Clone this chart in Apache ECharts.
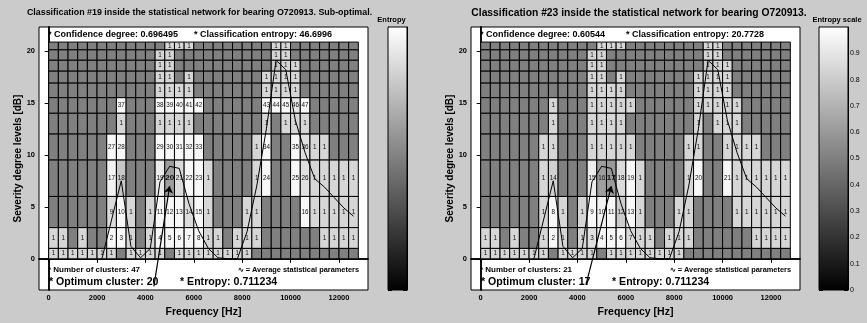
<!DOCTYPE html>
<html>
<head>
<meta charset="utf-8">
<script src="https://cdn.jsdelivr.net/npm/echarts@6/dist/echarts.min.js"></script>
<style>
  html, body { margin: 0; padding: 0; background: #cbcbcb; }
  #chart { width: 867px; height: 323px; }
</style>
</head>
<body>
<div id="chart"></div>
<script>
// severity level edges [dB], from bottom to top
const rowEdges = [0, 1, 3, 6, 9.5, 12, 14, 15.5, 16.9, 18.05, 19.1, 20.1, 20.85];
const binWidth = 400; // Hz per frequency bin (32 bins)
const freqTicks = [0, 2000, 4000, 6000, 8000, 10000, 12000];
const dbTicks = [0, 5, 10, 15, 20];
const entropyTicks = [0, 0.1, 0.2, 0.3, 0.4, 0.5, 0.6, 0.7, 0.8, 0.9];

// cluster labels per row, top row first ('.' = empty cell)
const labels19 = [
  '. . . . . . . . . . . . 1 1 1 . . . . . . . . 1 1 . . . . . . .',
  '. . . . . . . . . . . 1 1 . . . . . . . . . . 1 1 . . . . . . .',
  '. . . . . . . . . . . 1 1 . . . . . . . . . . 1 1 1 . . . . . .',
  '. . . . . . . . . . . 1 1 . 1 . . . . . . . 1 1 1 1 . . . . . .',
  '. . . . . . . . . . . 1 1 1 1 . . . . . . . 1 1 1 1 . . . . . .',
  '. . . . . . . 37 . . . 38 39 40 41 42 . . . . . . 43 44 45 46 47 . . . . .',
  '. . . . . . . 1 . . . 1 1 1 1 . . . . . . . 1 . 1 1 1 . . . . .',
  '. . . . . . 27 28 . . . 29 30 31 32 33 . . . . . 1 34 . . 35 36 1 1 . . .',
  '. . . . . . 17 18 . . . 19 20 21 22 23 1 . . . . 1 24 . . 25 26 1 1 1 1 1',
  '. . . . . . 9 10 1 . 1 11 12 13 14 15 1 . . . 1 1 . . . . 16 1 1 1 1 1',
  '1 1 . 1 . . 2 3 1 . 1 4 5 6 7 8 1 1 . 1 1 1 . . . . . . 1 1 1 1',
  '1 1 1 1 1 1 1 . 1 1 1 1 . 1 1 1 1 1 1 1 1 . . . . . . . . . . .'
];
const labels23 = [
  '. . . . . . . . . . . . 1 1 1 . . . . . . . . 1 1 . . . . . . .',
  '. . . . . . . . . . . 1 1 . . . . . . . . . . 1 1 . . . . . . .',
  '. . . . . . . . . . . 1 1 . . . . . . . . . . 1 1 1 . . . . . .',
  '. . . . . . . . . . . 1 1 . 1 . . . . . . . 1 1 1 1 . . . . . .',
  '. . . . . . . . . . . 1 1 1 1 . . . . . . . 1 1 1 1 . . . . . .',
  '. . . . . . . 1 . . . 1 1 1 1 1 . . . . . . 1 1 1 1 1 . . . . .',
  '. . . . . . . 1 . . . 1 1 1 1 . . . . . . . 1 . 1 1 1 . . . . .',
  '. . . . . . 1 1 . . . 1 1 1 1 1 . . . . . 1 1 . . 1 1 1 1 . . .',
  '. . . . . . 1 14 . . . 15 16 17 18 19 1 . . . . 1 20 . . 21 1 1 1 1 1 1',
  '. . . . . . 1 8 1 . 1 9 10 11 12 13 1 . . . 1 1 . . . . 1 1 1 1 1 1',
  '1 1 . 1 . . 1 2 1 . 1 3 4 5 6 7 1 1 . 1 1 1 . . . . . . 1 1 1 1',
  '1 1 1 1 1 1 1 . 1 1 1 1 . 1 1 1 1 1 1 1 1 . . . . . . . . . . .'
];

// entropy of cells that differ from the default shade: [row from bottom, bin, entropy]
const shade19 = [[3, 6, 0.95], [3, 7, 0.78], [3, 11, 0.92], [3, 12, 0.62], [3, 13, 0.86], [3, 26, 0.88],
  [2, 6, 0.86], [2, 14, 0.86], [4, 26, 0.88], [6, 25, 0.9], [9, 23, 0.78]];
const shade23 = [[3, 7, 0.82], [3, 11, 0.93], [3, 12, 0.62], [3, 13, 0.6], [3, 14, 0.86],
  [2, 12, 0.95], [2, 14, 0.8], [1, 11, 0.88], [1, 15, 0.85], [9, 23, 0.78]];
const emptyEntropy = 0.5, singleEntropy = 0.84, clusterEntropy = 0.97;

// average statistical parameters curve
const avgFreq = [2200, 3000, 3400, 3800, 4200, 4600, 5000, 5400, 5800, 6200, 6600, 7000, 7400, 7800,
  8200, 8600, 9000, 9400, 9800, 10200, 10600, 11000, 11400, 11800, 12200, 12600];
const avgDb = [0, 7.5, 1.2, 0.1, 1.0, 7.4, 8.9, 8.7, 5.3, 2.7, 1.0, 0.1, 0, 0,
  2.6, 7.0, 12.5, 19.1, 18.2, 13.3, 10.2, 7.7, 6.9, 5.9, 4.9, 4.1];

// optimum cluster pointers [Hz, dB]
const arrow19 = [[4350, -2.65], [5000, 7.0]];
const arrow23 = [[4350, -2.5], [5400, 7.0]];

const panels = [
  { title: 'Classification #19 inside the statistical network for bearing O720913. Sub-optimal.',
    titleSize: 8.9, titleX: 199.5,
    conf: '0.696495', classEnt: '46.6996', clusters: '47', optimum: '20', entropy: '0.711234',
    labels: labels19, shades: shade19, arrow: arrow19, cbTitle: 'Entropy', cbTitleX: 391.5 },
  { title: 'Classification #23 inside the statistical network for bearing O720913.',
    titleSize: 10.3, titleX: 639,
    conf: '0.60544', classEnt: '20.7728', clusters: '21', optimum: '17', entropy: '0.711234',
    labels: labels23, shades: shade23, arrow: arrow23, cbTitle: 'Entropy scale', cbTitleX: 837 }
];

const FONT = 'Liberation Sans, Arial, sans-serif';

function buildCells(labelRows, shades) {
  const out = [];
  labelRows.forEach((line, i) => {
    const r = labelRows.length - 1 - i;
    line.split(' ').forEach((t, c) => {
      const lab = t === '.' ? '' : t;
      const v = lab === '' ? emptyEntropy : (lab === '1' ? singleEntropy : clusterEntropy);
      out.push([c, r, v, lab]);
    });
  });
  shades.forEach(([r, c, v]) => {
    const cell = out.find(d => d[0] === c && d[1] === r);
    if (cell) cell[2] = v;
  });
  return out;
}

function cellRenderer(cells, optimum) {
  return function (params, api) {
    const c = api.value(0), r = api.value(1);
    const p0 = api.coord([c * binWidth, rowEdges[r + 1]]);
    const p1 = api.coord([(c + 1) * binWidth, rowEdges[r]]);
    const lab = cells[params.dataIndex][3];
    const best = lab === optimum;
    const children = [{
      type: 'rect',
      shape: { x: p0[0], y: p0[1], width: p1[0] - p0[0], height: p1[1] - p0[1] },
      style: { fill: api.visual('color'), stroke: '#000', lineWidth: 1 }
    }];
    if (lab) {
      children.push({
        type: 'text',
        style: {
          text: lab, x: (p0[0] + p1[0]) / 2, y: (p0[1] + p1[1]) / 2,
          align: 'center', verticalAlign: 'middle',
          font: (best ? 'bold 8px ' : '6.3px ') + FONT, fill: '#111'
        }
      });
    }
    return { type: 'group', children: children };
  };
}

function colorbarRender(params, api) {
  const p0 = api.coord([0, 1]);
  const p1 = api.coord([1, 0]);
  return {
    type: 'rect',
    shape: { x: p0[0], y: p0[1], width: p1[0] - p0[0], height: p1[1] - p0[1] },
    style: {
      fill: new echarts.graphic.LinearGradient(0, 0, 0, 1, [
        { offset: 0, color: '#ffffff' }, { offset: 1, color: '#000000' }
      ]),
      stroke: '#000', lineWidth: 1
    }
  };
}

const mainGrids = [{ left: 39, top: 27, width: 329, height: 263 }, { left: 471, top: 27, width: 329, height: 263 }];
const cbGrids = [{ left: 388, top: 27, width: 19, height: 263 }, { left: 819, top: 27, width: 29, height: 263 }];

const grid = [];
const xAxis = [];
const yAxis = [];
const series = [];
const graphic = [];
const cellSets = [];

const tickStyle = { show: true, inside: true, length: 4, lineStyle: { color: '#000', width: 1 } };
const lineStyle = { show: true, lineStyle: { color: '#000', width: 1.5 } };
const plain = v => String(v);

panels.forEach((p, k) => {
  const g = mainGrids[k];
  grid.push(Object.assign({ show: true, backgroundColor: '#fff', borderColor: '#000', borderWidth: 1 }, g));
  const gi = grid.length - 1;
  // bottom / top frequency axes
  xAxis.push({
    gridIndex: gi, type: 'value', min: -400, max: 13200, position: 'bottom',
    axisLine: lineStyle, splitLine: { show: false },
    axisTick: Object.assign({ customValues: freqTicks }, tickStyle),
    axisLabel: { customValues: freqTicks, formatter: plain, fontFamily: FONT, fontWeight: 'bold', fontSize: 7.5, color: '#000', margin: 4 },
    name: 'Frequency [Hz]', nameLocation: 'middle', nameGap: 11,
    nameTextStyle: { fontFamily: FONT, fontWeight: 'bold', fontSize: 10.5, color: '#000' }
  });
  const xi = xAxis.length - 1;
  xAxis.push({
    gridIndex: gi, type: 'value', min: -400, max: 13200, position: 'top',
    axisLine: lineStyle, splitLine: { show: false },
    axisTick: Object.assign({ customValues: freqTicks }, tickStyle), axisLabel: { show: false }
  });
  yAxis.push({
    gridIndex: gi, type: 'value', min: -3, max: 22.3, position: 'left',
    axisLine: lineStyle, splitLine: { show: false },
    axisTick: Object.assign({ customValues: dbTicks }, tickStyle),
    axisLabel: { customValues: dbTicks, formatter: plain, fontFamily: FONT, fontWeight: 'bold', fontSize: 7.5, color: '#000', margin: 4 },
    name: 'Severity degree levels [dB]', nameLocation: 'middle', nameGap: 12,
    nameTextStyle: { fontFamily: FONT, fontWeight: 'bold', fontSize: 10, color: '#000' }
  });
  const yi = yAxis.length - 1;
  yAxis.push({
    gridIndex: gi, type: 'value', min: -3, max: 22.3, position: 'right',
    axisLine: lineStyle, splitLine: { show: false },
    axisTick: Object.assign({ customValues: dbTicks }, tickStyle), axisLabel: { show: false }
  });

  const cells = buildCells(p.labels, p.shades);
  cellSets.push(series.length);
  series.push({
    type: 'custom', xAxisIndex: xi, yAxisIndex: yi, data: cells, z: 2,
    renderItem: cellRenderer(cells, p.optimum), silent: true
  });
  series.push({
    type: 'line', xAxisIndex: xi, yAxisIndex: yi, z: 5, symbol: 'none', silent: true,
    data: avgFreq.map((f, i) => [f, avgDb[i]]),
    lineStyle: { color: '#000', width: 1 }
  });
  series.push({
    type: 'lines', coordinateSystem: 'cartesian2d', xAxisIndex: xi, yAxisIndex: yi, z: 6, silent: true,
    symbol: ['none', 'arrow'], symbolSize: 7,
    lineStyle: { color: '#000', width: 1.2, opacity: 1 },
    data: [{ coords: p.arrow }]
  });

  // colorbar
  const cg = cbGrids[k];
  grid.push(Object.assign({ show: false }, cg));
  const cgi = grid.length - 1;
  xAxis.push({ gridIndex: cgi, type: 'value', min: 0, max: 1, show: false });
  const cxi = xAxis.length - 1;
  yAxis.push({
    gridIndex: cgi, type: 'value', min: 0, max: 1, position: 'left',
    axisLine: { show: true, lineStyle: { color: '#000', width: 1 } }, splitLine: { show: false },
    axisTick: Object.assign({ customValues: entropyTicks }, tickStyle), axisLabel: { show: false }
  });
  const cyi = yAxis.length - 1;
  yAxis.push({
    gridIndex: cgi, type: 'value', min: 0, max: 1, position: 'right',
    axisLine: { show: true, lineStyle: { color: '#000', width: 1 } }, splitLine: { show: false },
    axisTick: Object.assign({ customValues: entropyTicks }, tickStyle),
    axisLabel: k === 1
      ? { customValues: entropyTicks, fontFamily: FONT, fontSize: 7, color: '#000', margin: 2 }
      : { show: false }
  });
  series.push({
    type: 'custom', xAxisIndex: cxi, yAxisIndex: cyi, data: [[0, 1]], z: 1, silent: true,
    renderItem: colorbarRender
  });

  // texts
  const dx = g.left - 39;
  const t = (x, y, text, size, align) => ({
    type: 'text', x: x, y: y, z: 10,
    style: { text: text, font: 'bold ' + size + 'px ' + FONT, fill: '#000', align: align || 'left', verticalAlign: 'middle' }
  });
  graphic.push(t(p.titleX, 13, p.title, p.titleSize, 'center'));
  graphic.push(t(p.cbTitleX, 20, p.cbTitle, 7.5, 'center'));
  graphic.push(t(48 + dx, 34.5, '* Confidence degree: ' + p.conf, 9));
  graphic.push(t(194 + dx, 34.5, '* Classification entropy: ' + p.classEnt, 9));
  graphic.push(t(48 + dx, 269.5, '* Number of clusters: ' + p.clusters, 8));
  graphic.push(t(49 + dx, 282, '* Optimum cluster: ' + p.optimum, 10.6));
  graphic.push(t(180 + dx, 282, '* Entropy: ' + p.entropy, 10.6));
  graphic.push(t(359 + dx, 269.5, '\u223F = Average statistical parameters', 7.4, 'right'));
});

const chart = echarts.init(document.getElementById('chart'), null, { renderer: 'canvas' });
chart.setOption({
  backgroundColor: '#cbcbcb',
  animation: false,
  grid: grid,
  xAxis: xAxis,
  yAxis: yAxis,
  visualMap: [{
    type: 'continuous', show: false, min: 0, max: 1, dimension: 2,
    seriesIndex: cellSets, inRange: { color: ['#000000', '#ffffff'] }
  }],
  series: series,
  graphic: graphic
});
</script>
</body>
</html>
